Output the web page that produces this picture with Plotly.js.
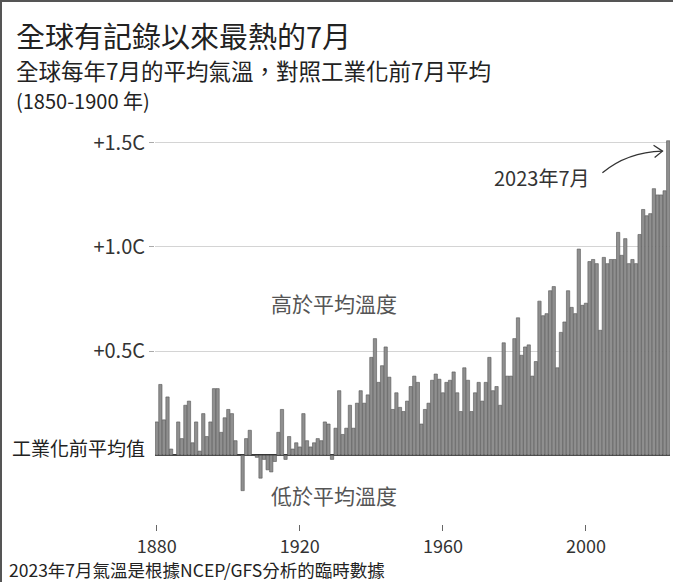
<!DOCTYPE html>
<html>
<head>
<meta charset="utf-8">
<script src="https://cdn.plot.ly/plotly-3.0.1.min.js"></script>
<style>
  html, body { margin: 0; padding: 0; background: #fff; }
  #wrap { position: relative; width: 673px; height: 582px; }
  #chart { width: 673px; height: 582px; }
  #frame { position: absolute; left: 0; top: 0; width: 673px; height: 582px;
           box-sizing: border-box; border-left: 2px solid #555; border-top: 2px solid #555;
           pointer-events: none; }
</style>
</head>
<body>
<div id="wrap">
  <div id="chart"></div>
  <div id="frame"></div>
</div>
<script>
// July global temperature anomaly vs pre-industrial July average (°C), 1880-2023
const startYear = 1880;
const anomalies = [
  0.16, 0.34, 0.17, 0.28, 0.03, 0.00, 0.16, 0.08, 0.24, 0.26,   // 1880s
  0.06, 0.16, 0.02, 0.20, 0.09, 0.16, 0.32, 0.32, 0.11, 0.18,   // 1890s
  0.22, 0.20, 0.07, 0.00, -0.17, 0.08, 0.12, 0.00, -0.01, -0.11, // 1900s
  -0.02, -0.07, -0.08, -0.03, 0.11, 0.22, -0.02, 0.09, 0.03, 0.06, // 1910s
  0.04, 0.20, 0.07, 0.04, 0.06, 0.08, 0.07, 0.16, 0.15, -0.02,  // 1920s
  0.13, 0.31, 0.10, 0.13, 0.24, 0.13, 0.25, 0.31, 0.25, 0.29,   // 1930s
  0.47, 0.56, 0.35, 0.43, 0.52, 0.375, 0.22, 0.30, 0.23, 0.21,  // 1940s
  0.26, 0.33, 0.38, 0.35, 0.15, 0.22, 0.25, 0.36, 0.39, 0.365,  // 1950s
  0.30, 0.35, 0.36, 0.40, 0.30, 0.21, 0.42, 0.36, 0.21, 0.30,   // 1960s
  0.35, 0.26, 0.35, 0.47, 0.31, 0.33, 0.24, 0.54, 0.38, 0.38,   // 1970s
  0.56, 0.66, 0.48, 0.52, 0.53, 0.38, 0.45, 0.74, 0.67, 0.68,   // 1980s
  0.79, 0.81, 0.42, 0.59, 0.64, 0.79, 0.71, 0.68, 0.99, 0.72,   // 1990s
  0.73, 0.93, 0.94, 0.92, 0.60, 0.95, 0.92, 0.94, 0.94, 1.07,   // 2000s
  0.96, 1.04, 0.92, 0.94, 0.92, 1.06, 1.18, 1.15, 1.16, 1.28,   // 2010s
  1.25, 1.25, 1.27, 1.51                                        // 2020s
];
const years = anomalies.map((_, i) => startYear + i);

const yTickVals = [0.5, 1.0, 1.5];
const yTickText = ['+0.5C', '+1.0C', '+1.5C'];
const xTickVals = [1880, 1920, 1960, 2000];
const xTickText = ['1880', '1920', '1960', '2000'];

const titleText = '全球有記錄以來最熱的7月';
const subtitle1 = '全球每年7月的平均氣溫，對照工業化前7月平均';
const subtitle2 = '(1850-1900 年)';
const baselineLabel = '工業化前平均值';
const aboveLabel = '高於平均溫度';
const belowLabel = '低於平均溫度';
const latestLabel = '2023年7月';
const footnote = '2023年7月氣溫是根據NCEP/GFS分析的臨時數據';

const FONT = "'Noto Sans CJK TC', 'Noto Sans', sans-serif";

const trace = {
  type: 'bar',
  x: years,
  y: anomalies,
  marker: { color: '#8f8f8f', line: { color: '#555555', width: 0.6 } },
  hoverinfo: 'x+y'
};

const lastYear = years[years.length - 1];

const layout = {
  width: 673,
  height: 582,
  margin: { l: 155, r: 3, t: 122, b: 58, pad: 0 },
  paper_bgcolor: '#ffffff',
  plot_bgcolor: '#ffffff',
  showlegend: false,
  bargap: 0.08,
  font: { family: FONT, color: '#333333' },
  xaxis: {
    range: [startYear - 0.5, lastYear + 0.5],
    tickvals: xTickVals,
    ticktext: xTickText,
    ticks: 'outside',
    ticklen: 6,
    tickwidth: 1,
    tickcolor: '#666666',
    showgrid: false,
    zeroline: false,
    showline: false,
    tickfont: { family: FONT, size: 18, color: '#333333' },
    fixedrange: true
  },
  yaxis: {
    range: [-0.33, 1.6],
    tickvals: yTickVals,
    ticktext: yTickText,
    ticks: 'outside',
    ticklen: 5,
    tickwidth: 1,
    tickcolor: '#aaaaaa',
    showgrid: true,
    gridcolor: '#d4d4d4',
    gridwidth: 1,
    zeroline: true,
    zerolinecolor: '#333333',
    zerolinewidth: 1.6,
    showline: false,
    tickfont: { family: FONT, size: 20, color: '#333333' },
    fixedrange: true
  },
  shapes: [
    // curved arrow pointing at the latest bar
    {
      type: 'path', xref: 'x', yref: 'y',
      path: 'M 2004.6 1.356 Q 2011.5 1.455 2021.4 1.46',
      line: { color: '#333333', width: 1.3 }
    },
    {
      type: 'path', xref: 'x', yref: 'y',
      path: 'M 2018.9 1.488 L 2021.4 1.46 L 2019.2 1.43',
      line: { color: '#333333', width: 1.3 }
    }
  ],
  annotations: [
    { text: titleText, xref: 'paper', yref: 'paper', x: -0.2735, y: 1.2169,
      xanchor: 'left', yanchor: 'middle', showarrow: false,
      font: { family: FONT, size: 29, color: '#222222' } },
    { text: subtitle1, xref: 'paper', yref: 'paper', x: -0.2735, y: 1.1299,
      xanchor: 'left', yanchor: 'middle', showarrow: false,
      font: { family: FONT, size: 22.5, color: '#222222' } },
    { text: subtitle2, xref: 'paper', yref: 'paper', x: -0.2735, y: 1.0528,
      xanchor: 'left', yanchor: 'middle', showarrow: false,
      font: { family: FONT, size: 20, color: '#222222' } },
    { text: baselineLabel, xref: 'paper', yref: 'y', x: -0.0155, y: 0,
      xanchor: 'right', yanchor: 'middle', yshift: 8, showarrow: false,
      font: { family: FONT, size: 19, color: '#222222' } },
    { text: aboveLabel, xref: 'x', yref: 'y', x: 1929.5, y: 0.732,
      xanchor: 'center', yanchor: 'middle', showarrow: false,
      font: { family: FONT, size: 21, color: '#555555' } },
    { text: belowLabel, xref: 'x', yref: 'y', x: 1929.5, y: -0.19,
      xanchor: 'center', yanchor: 'middle', showarrow: false,
      font: { family: FONT, size: 21, color: '#555555' } },
    { text: latestLabel, xref: 'x', yref: 'y', x: 1987.6, y: 1.335,
      xanchor: 'center', yanchor: 'middle', showarrow: false,
      font: { family: FONT, size: 20, color: '#333333' } },
    { text: footnote, xref: 'paper', yref: 'paper', x: -0.287, y: -0.1137,
      xanchor: 'left', yanchor: 'middle', showarrow: false,
      font: { family: FONT, size: 17.5, color: '#222222' } }
  ]
};

Plotly.newPlot('chart', [trace], layout, { displayModeBar: false, staticPlot: true });
</script>
</body>
</html>
